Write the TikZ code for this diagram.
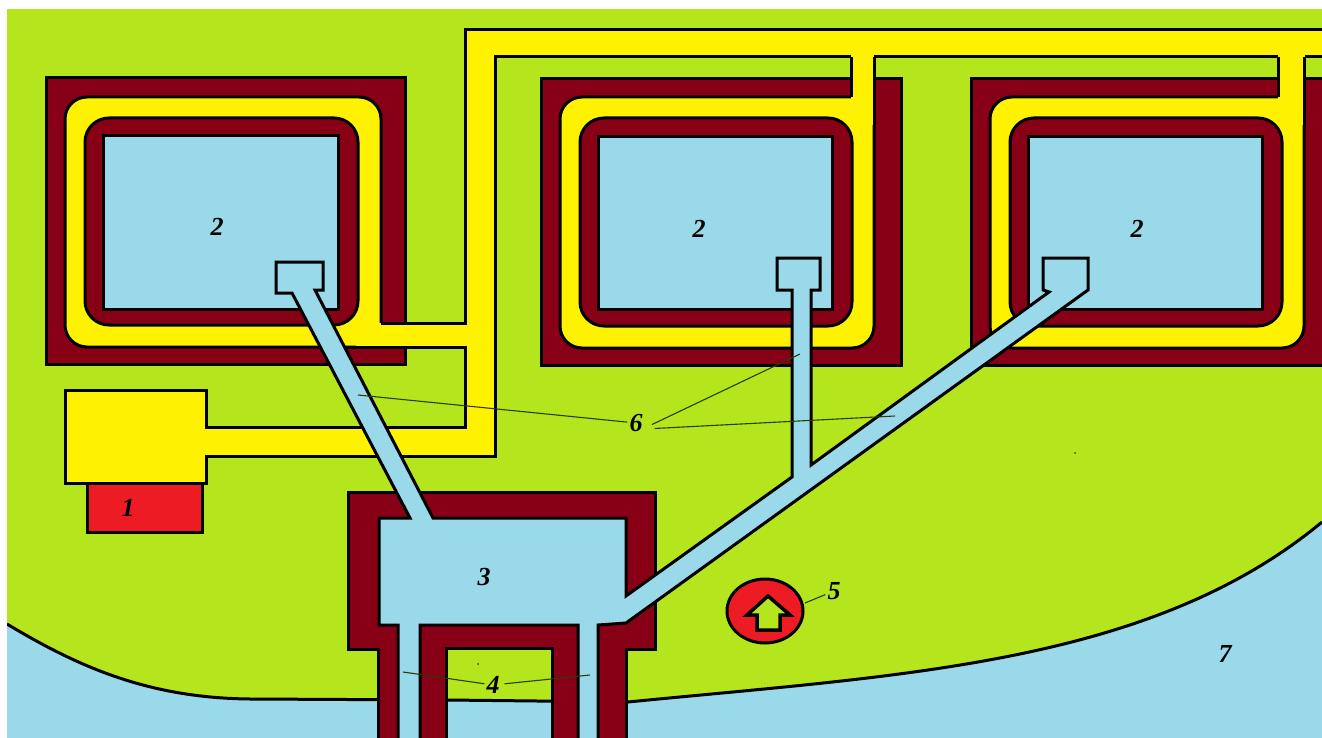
\documentclass[tikz,border=0pt]{standalone}
\usepackage{xcolor}
\usepackage{fontspec}
\setmainfont{Liberation Serif}
\definecolor{landgreen}{HTML}{B5E61D}
\definecolor{wateblue}{HTML}{99D9EA}
\definecolor{wallred}{HTML}{880015}
\definecolor{wireyellow}{HTML}{FFF200}
\definecolor{pumpred}{HTML}{ED1C24}
\tikzset{
  edge/.style={draw=black,line width=3pt,line join=miter},
  leader/.style={draw=black!75!landgreen,line width=1.1pt},
  numlabel/.style={font=\fontsize{26}{26}\selectfont\bfseries\itshape,inner sep=2pt,text=black}
}
\begin{document}
\begin{tikzpicture}[x=1pt,y=-1pt]
\fill[white] (0,0) rectangle (1322,738);
\begin{scope}
\clip (7,9) rectangle (1322,738);
\fill[landgreen] (7,9) rectangle (1322,738);
% water
\fill[wateblue] (7,624) .. controls (80,668) and (150,698) .. (250,699) -- (447,700) -- (628,702) .. controls (900,675) and (1150,665) .. (1322,522) -- (1322,738) -- (7,738) -- cycle;
\draw[edge] (7,624) .. controls (80,668) and (150,698) .. (250,699) -- (447,700) -- (628,702) .. controls (900,675) and (1150,665) .. (1322,522);
% left coil
\draw[edge,fill=wallred] (46,78) rectangle (405,364);
\draw[edge,fill=wireyellow,rounded corners=22pt] (65,97) rectangle (381,347);
\draw[edge,fill=wallred,rounded corners=24pt] (85,118) rectangle (358,325);
\draw[edge,fill=wateblue] (103,136) rectangle (338,309);
% two right coils
\foreach \dx/\bx in {0/851,430/1278} {
  \draw[edge,fill=wallred] (541+\dx,79) rectangle (901+\dx,365);
  \draw[edge,fill=wireyellow,rounded corners=22pt] (560+\dx,97) rectangle (874+\dx,348);
  \fill[wireyellow] (\bx,92) rectangle (873+\dx,125);
  \draw[edge,fill=wallred,rounded corners=24pt] (580+\dx,118) rectangle (852+\dx,326);
  \draw[edge,fill=wateblue] (598+\dx,137) rectangle (832+\dx,309);
  \draw[edge] (\bx,57) -- (\bx,97);
  \draw[edge] (874+\dx,57) -- (874+\dx,125);
  \fill[wireyellow] (\bx+1.5,55) rectangle (872.5+\dx,99);
}
% supply
\fill[wireyellow] (65,390) -- (206,390) -- (206,427) -- (465,427) -- (465,347) -- (356,347) -- (356,329) -- (378,329) -- (378,323) -- (465,323) -- (465,30) -- (1322,30) -- (1322,57) -- (495,57) -- (495,456) -- (206,456) -- (206,483) -- (65,483) -- cycle;
\draw[edge] (330,347) -- (465,347) -- (465,427) -- (206,427) -- (206,390) -- (65,390) -- (65,483) -- (206,483) -- (206,456) -- (495,456) -- (495,57) -- (851,57);
\draw[edge] (381,323) -- (465,323) -- (465,30) -- (1322,30);
\draw[edge] (874,57) -- (1278,57);
\draw[edge] (1305,57) -- (1322,57);
\node[edge,fill=pumpred,minimum width=115pt,minimum height=49pt,inner sep=0pt] (pump) at (144.5,508) {};
% shaft
\draw[edge,fill=wallred,even odd rule] (348,492) -- (655,492) -- (655,649) -- (626,649) -- (626,745) -- (378,745) -- (378,649) -- (348,649) -- cycle (446,648) rectangle (552,745);
% channels
\draw[edge,fill=wateblue] (379,518) -- (410,518) -- (292,293) -- (276,293) -- (276,262) -- (323,262) -- (323,290) -- (315,290) -- (433,518) -- (626,518) -- (626,596) -- (792,477) -- (792,290) -- (777,290) -- (777,258) -- (820,258) -- (820,290) -- (811,290) -- (811,465) -- (1049,292) -- (1043,290) -- (1043,258) -- (1088,258) -- (1088,290) -- (626,623) -- (598,625) -- (598,745) -- (578,745) -- (578,625) -- (420,625) -- (420,745) -- (398,745) -- (398,625) -- (379,625) -- cycle;
% pump 5
\draw[edge,fill=pumpred] (765,611) ellipse (38 and 32);
\draw[edge,fill=landgreen,line width=3.5pt] (768,596) -- (790,615) -- (780,615) -- (780,630) -- (757,630) -- (757,615) -- (747,615) -- cycle;
\fill[black!70!landgreen] (1075,453) circle (1);
\fill[black!70!landgreen] (478,664) circle (1);
\end{scope}
% labels
\node[numlabel] (coila) at (217,227) {2};
\node[numlabel] (coilb) at (699,229) {2};
\node[numlabel] (coilc) at (1137,229) {2};
\node[numlabel] (pumpnum) at (128,508) {1};
\node[numlabel] (shaftnum) at (484,577) {3};
\node[numlabel] (chan) at (493,685) {4};
\node[numlabel] (well) at (834,591) {5};
\node[numlabel] (feed) at (636,423) {6};
\node[numlabel] (water) at (1225,654) {7};
\coordinate (feeda) at (358,395);
\coordinate (feedb) at (800,354);
\coordinate (feedc) at (895,416);
\coordinate (chana) at (403,672);
\coordinate (chanb) at (590,675);
\coordinate (wella) at (805,603);
\draw[leader] (feed) -- (feeda);
\draw[leader,shorten <=8pt] ([yshift=-5pt]feed.east) -- (feedb);
\draw[leader,shorten <=10pt] ([yshift=-6pt]feed.east) -- (feedc);
\draw[leader] (chan) -- (chana);
\draw[leader,shorten <=3pt] (chan) -- (chanb);
\draw[leader] (well) -- (wella);
\end{tikzpicture}
\end{document}
